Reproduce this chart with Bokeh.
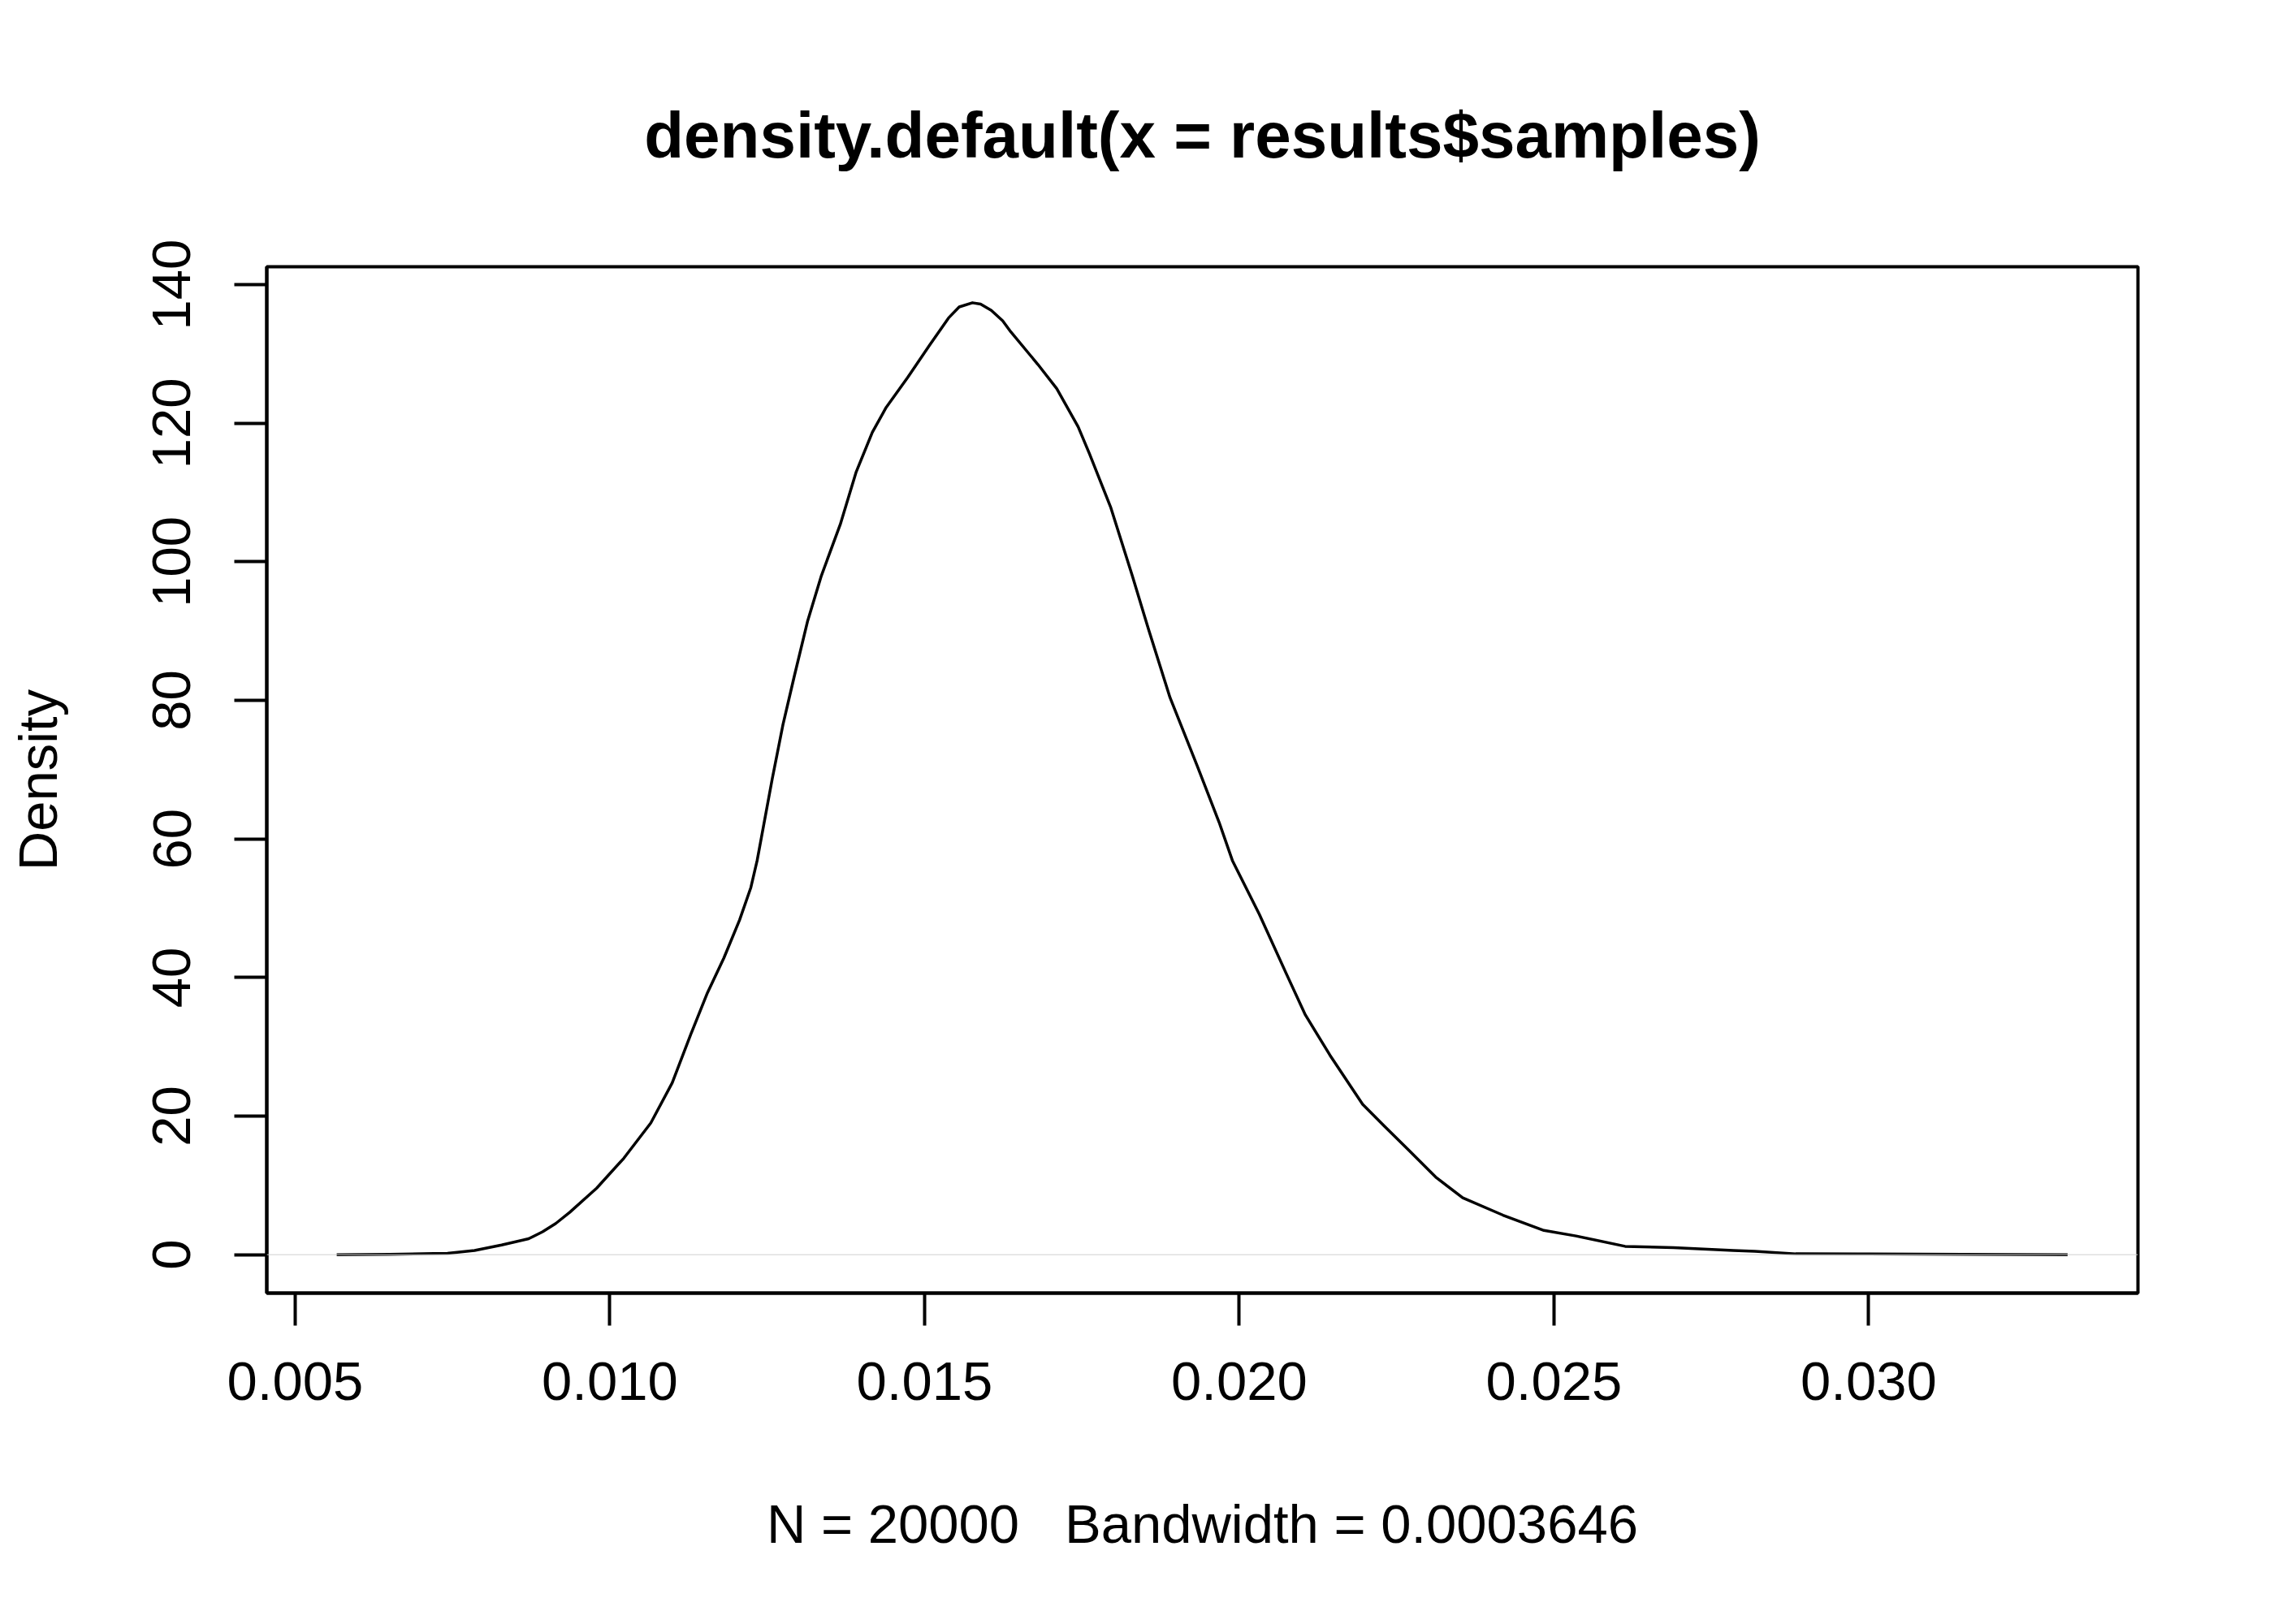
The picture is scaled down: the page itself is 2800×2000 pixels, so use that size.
from bokeh.plotting import figure
from bokeh.models import FixedTicker, PrintfTickFormatter, Span, Range1d, ColumnDataSource
from bokeh.embed import file_html
from bokeh.resources import INLINE

# Density estimate
dens_x = [0.00566, 0.0065, 0.0072, 0.00742, 0.00785, 0.00828, 0.00871, 0.00893, 0.00914, 0.00936,
          0.00979, 0.01022, 0.01065, 0.01099, 0.01129, 0.01155, 0.01181, 0.01206, 0.01224, 0.01234,
          0.01258, 0.01275, 0.01293, 0.01314, 0.01336, 0.01366, 0.01391, 0.01417, 0.01439, 0.01473,
          0.01508, 0.01538, 0.01555, 0.01576, 0.01589, 0.01606, 0.01624, 0.01637, 0.01680, 0.01710,
          0.01744, 0.01762, 0.01796, 0.0183, 0.01856, 0.0189, 0.01933, 0.01968, 0.01989, 0.02032,
          0.02075, 0.02105, 0.02144, 0.02196, 0.0223, 0.02269, 0.02312, 0.02355, 0.02419, 0.02484,
          0.02535, 0.02613, 0.0269, 0.02785, 0.02819, 0.02884, 0.030, 0.0315, 0.03316]
dens_y = [0.0, 0.05, 0.15, 0.2, 0.6, 1.4, 2.3, 3.3, 4.5, 6.1,
          9.6, 13.9, 19.0, 24.8, 31.9, 37.8, 42.8, 48.3, 53.0, 56.9,
          68.7, 76.5, 83.5, 91.4, 98.0, 105.4, 112.9, 118.7, 122.3, 126.6,
          131.3, 135.2, 136.8, 137.4, 137.2, 136.3, 134.8, 133.2, 128.5, 125.0,
          119.5, 115.6, 107.8, 98.0, 90.2, 80.4, 70.6, 62.4, 56.9, 49.1,
          40.5, 34.6, 28.8, 21.7, 18.6, 15.1, 11.2, 8.2, 5.7, 3.5,
          2.7, 1.2, 1.0, 0.6, 0.5, 0.12, 0.1, 0.05, 0.0]

x_ticks = [0.005, 0.010, 0.015, 0.020, 0.025, 0.030]
y_ticks = [0, 20, 40, 60, 80, 100, 120, 140]

title_text = "density.default(x = results$samples)"
x_label = "N = 20000\u00a0\u00a0\u00a0Bandwidth = 0.0003646"
y_label = "Density"

FONT = "Liberation Sans"

p = figure(width=2800, height=2000, output_backend="svg", toolbar_location=None,
           x_range=Range1d(0.004549, 0.034278), y_range=Range1d(-5.55, 142.6),
           min_border_left=328, min_border_right=168, min_border_top=328, min_border_bottom=408,
           background_fill_color="white", border_fill_color="white")

p.title.text = title_text
p.title.text_font = FONT
p.title.text_font_size = "80px"
p.title.text_font_style = "bold"
p.title.align = "center"
p.title.standoff = 236
p.title.text_color = "black"

p.outline_line_color = "black"
p.outline_line_width = 4
p.xgrid.visible = False
p.ygrid.visible = False

src = ColumnDataSource(dict(x=dens_x, y=dens_y))

zero = Span(location=0, dimension="width", line_color="#cfcfcf", line_width=1)
p.add_layout(zero)
p.line("x", "y", source=src, line_color="black", line_width=3.5, line_join="round")

for ax in (p.xaxis[0], p.yaxis[0]):
    ax.axis_line_color = "black"
    ax.axis_line_width = 4
    ax.major_tick_line_color = "black"
    ax.major_tick_line_width = 4
    ax.major_tick_out = 40
    ax.major_tick_in = 0
    ax.minor_tick_line_color = None
    ax.major_label_text_font = FONT
    ax.major_label_text_font_size = "67px"
    ax.major_label_text_color = "black"
    ax.axis_label_text_font = FONT
    ax.axis_label_text_font_size = "67px"
    ax.axis_label_text_font_style = "normal"
    ax.axis_label_text_color = "black"

xa = p.xaxis[0]
xa.ticker = FixedTicker(ticks=x_ticks)
xa.formatter = PrintfTickFormatter(format="%.3f")
xa.major_label_standoff = 45
xa.axis_label = x_label
xa.axis_label_standoff = 112

ya = p.yaxis[0]
ya.ticker = FixedTicker(ticks=y_ticks)
ya.formatter = PrintfTickFormatter(format="%d")
ya.major_label_orientation = "vertical"
ya.major_label_standoff = 54
ya.axis_label = y_label
ya.axis_label_standoff = 102

open("out.html", "w").write(file_html(p, INLINE))
